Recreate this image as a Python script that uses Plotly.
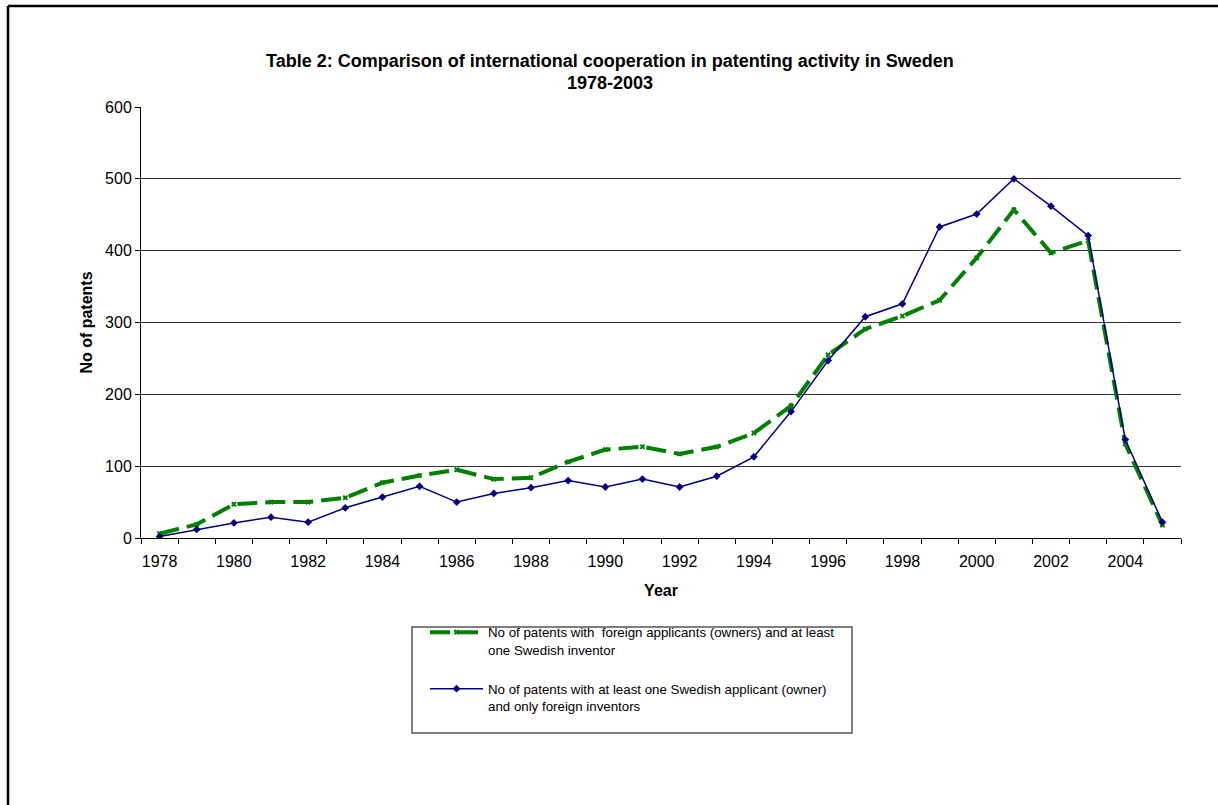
import plotly.graph_objects as go

years = list(range(1978, 2006))
foreign_applicants = [6, 19, 47, 50, 50, 56, 77, 87, 95, 82, 84, 106, 123, 127, 117, 127, 146, 184, 255,
                      291, 309, 331, 390, 457, 397, 414, 131, 18]
swedish_applicant = [2, 12, 21, 29, 22, 42, 57, 72, 50, 62, 70, 80, 71, 82, 71, 86, 113, 176, 247,
                     308, 326, 433, 451, 500, 462, 421, 137, 22]
x_tick_labels = [str(y) for y in range(1978, 2005, 2)]
y_tick_vals = [0, 100, 200, 300, 400, 500, 600]
title_lines = ["Table 2: Comparison of international cooperation in patenting activity in Sweden", "1978-2003"]

name_green = "No of patents with  foreign applicants (owners) and at least<br>one Swedish inventor"
name_blue = "No of patents with at least one Swedish applicant (owner)<br>and only foreign inventors"

fig = go.Figure()
fig.add_trace(go.Scatter(
    x=years, y=foreign_applicants, name=name_green, mode="lines+markers",
    line=dict(color="#008000", width=4, dash="20px,8px"),
    marker=dict(symbol="x", size=5, color="#008000"),
    legendgroup="g1",
))
fig.add_trace(go.Scatter(
    x=years, y=swedish_applicant, name=name_blue, mode="lines+markers",
    line=dict(color="#000080", width=1.5),
    marker=dict(symbol="diamond", size=6, color="#000080"),
    legendgroup="g2",
))

font_family = "Liberation Sans, Arial, sans-serif"

fig.update_layout(
    width=1218, height=805,
    margin=dict(l=141, r=37, t=107, b=267),
    paper_bgcolor="white", plot_bgcolor="white",
    font=dict(family=font_family, color="black", size=16),
    showlegend=True,
    legend=dict(
        x=(425 - 141) / 1040, xanchor="left",
        y=(538 - 617) / 431, yanchor="top",
        bgcolor="rgba(0,0,0,0)", borderwidth=0,
        font=dict(size=13.3, family=font_family),
        valign="top", tracegroupgap=19, itemwidth=53,
    ),
    xaxis=dict(
        range=[1977.5, 2005.5],
        tickmode="array", tickvals=list(range(1978, 2005, 2)), ticktext=x_tick_labels,
        ticks="outside", ticklen=9, tickcolor="rgba(0,0,0,0)",
        showgrid=False, zeroline=False,
        showline=True, linecolor="black", linewidth=1,
        tickfont=dict(size=16),
        minor=dict(tickmode="linear", tick0=1977.5, dtick=1, ticks="outside",
                   ticklen=5, tickcolor="black", showgrid=False),
        title=dict(text="<b>Year</b>", font=dict(size=16), standoff=15),
    ),
    yaxis=dict(
        range=[0, 600],
        tickmode="array", tickvals=y_tick_vals,
        ticks="outside", ticklen=5, tickcolor="black",
        showgrid=False, zeroline=False,
        showline=True, linecolor="black", linewidth=1,
        tickfont=dict(size=16),
        minor=dict(tickmode="array", tickvals=[100, 200, 300, 400, 500], showgrid=True,
                   gridcolor="#333333", gridwidth=1, ticks=""),
        title=dict(text="<b>No of patents</b>", font=dict(size=16), standoff=8),
    ),
    shapes=[
        dict(type="rect", xref="paper", yref="paper",
             x0=(412 - 141) / 1040, x1=(852 - 141) / 1040,
             y0=(538 - 733) / 431, y1=(538 - 627) / 431,
             line=dict(color="#555555", width=1.5), fillcolor="rgba(0,0,0,0)"),
    ],
)
for txt, yc in zip(title_lines, [61, 83]):
    fig.add_annotation(text="<b>" + txt + "</b>", xref="paper", yref="paper",
                       x=(610 - 141) / 1040, y=(538 - yc) / 431, xanchor="center", yanchor="middle",
                       showarrow=False, font=dict(size=18, family=font_family, color="black"))

# Outer frame (left and top edges visible)
fig.add_shape(type="line", xref="paper", yref="paper",
              x0=(8 - 141) / 1040, x1=(1230 - 141) / 1040,
              y0=(538 - 6) / 431, y1=(538 - 6) / 431,
              line=dict(color="black", width=2.5))
fig.add_shape(type="line", xref="paper", yref="paper",
              x0=(8 - 141) / 1040, x1=(8 - 141) / 1040,
              y0=(538 - 6) / 431, y1=(538 - 820) / 431,
              line=dict(color="black", width=2.5))

fig.write_html("out.html")
